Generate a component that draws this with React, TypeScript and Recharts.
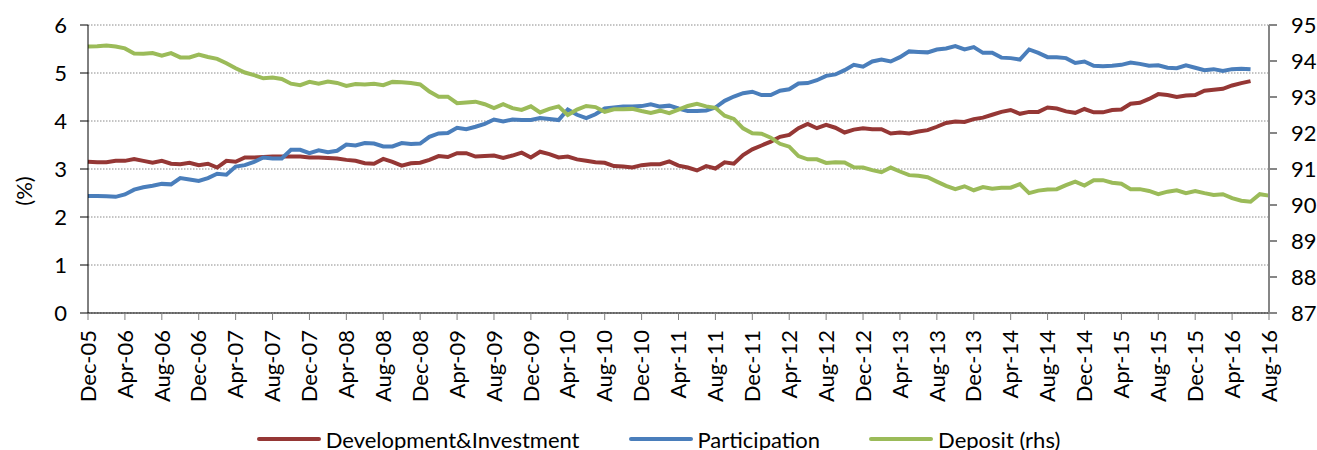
import React from 'react';
import { LineChart, Line, XAxis, YAxis, CartesianGrid, Legend } from 'recharts';

const FONT = 'Lato, "Open Sans", sans-serif';

// monthly categories, Dec-05 .. Aug-16
const months = [
  'Dec-05',
  'Jan-06', 'Feb-06', 'Mar-06', 'Apr-06', 'May-06', 'Jun-06', 'Jul-06', 'Aug-06', 'Sep-06', 'Oct-06', 'Nov-06', 'Dec-06',
  'Jan-07', 'Feb-07', 'Mar-07', 'Apr-07', 'May-07', 'Jun-07', 'Jul-07', 'Aug-07', 'Sep-07', 'Oct-07', 'Nov-07', 'Dec-07',
  'Jan-08', 'Feb-08', 'Mar-08', 'Apr-08', 'May-08', 'Jun-08', 'Jul-08', 'Aug-08', 'Sep-08', 'Oct-08', 'Nov-08', 'Dec-08',
  'Jan-09', 'Feb-09', 'Mar-09', 'Apr-09', 'May-09', 'Jun-09', 'Jul-09', 'Aug-09', 'Sep-09', 'Oct-09', 'Nov-09', 'Dec-09',
  'Jan-10', 'Feb-10', 'Mar-10', 'Apr-10', 'May-10', 'Jun-10', 'Jul-10', 'Aug-10', 'Sep-10', 'Oct-10', 'Nov-10', 'Dec-10',
  'Jan-11', 'Feb-11', 'Mar-11', 'Apr-11', 'May-11', 'Jun-11', 'Jul-11', 'Aug-11', 'Sep-11', 'Oct-11', 'Nov-11', 'Dec-11',
  'Jan-12', 'Feb-12', 'Mar-12', 'Apr-12', 'May-12', 'Jun-12', 'Jul-12', 'Aug-12', 'Sep-12', 'Oct-12', 'Nov-12', 'Dec-12',
  'Jan-13', 'Feb-13', 'Mar-13', 'Apr-13', 'May-13', 'Jun-13', 'Jul-13', 'Aug-13', 'Sep-13', 'Oct-13', 'Nov-13', 'Dec-13',
  'Jan-14', 'Feb-14', 'Mar-14', 'Apr-14', 'May-14', 'Jun-14', 'Jul-14', 'Aug-14', 'Sep-14', 'Oct-14', 'Nov-14', 'Dec-14',
  'Jan-15', 'Feb-15', 'Mar-15', 'Apr-15', 'May-15', 'Jun-15', 'Jul-15', 'Aug-15', 'Sep-15', 'Oct-15', 'Nov-15', 'Dec-15',
  'Jan-16', 'Feb-16', 'Mar-16', 'Apr-16', 'May-16', 'Jun-16', 'Jul-16', 'Aug-16',
];

// Development&Investment (%), Dec-05 .. Jun-16
const devInv = [
  3.15,
  3.14, 3.14, 3.17, 3.17, 3.21, 3.17, 3.13, 3.17, 3.11, 3.10, 3.13, 3.08,
  3.11, 3.03, 3.17, 3.15, 3.24, 3.24, 3.25, 3.26, 3.26, 3.26, 3.26, 3.24,
  3.24, 3.23, 3.22, 3.19, 3.17, 3.12, 3.11, 3.21, 3.15, 3.07, 3.12, 3.13,
  3.19, 3.27, 3.25, 3.33, 3.33, 3.26, 3.27, 3.28, 3.23, 3.28, 3.34, 3.24,
  3.36, 3.31, 3.24, 3.26, 3.20, 3.17, 3.14, 3.13, 3.06, 3.05, 3.03, 3.08,
  3.10, 3.10, 3.16, 3.07, 3.03, 2.97, 3.06, 3.01, 3.14, 3.11, 3.29, 3.41,
  3.49, 3.57, 3.67, 3.71, 3.85, 3.94, 3.85, 3.92, 3.86, 3.76, 3.82, 3.85,
  3.83, 3.83, 3.74, 3.76, 3.74, 3.78, 3.81, 3.88, 3.96, 3.99, 3.98, 4.04,
  4.07, 4.13, 4.19, 4.23, 4.15, 4.19, 4.19, 4.28, 4.26, 4.20, 4.17, 4.25,
  4.18, 4.18, 4.23, 4.24, 4.36, 4.38, 4.46, 4.56, 4.54, 4.50, 4.53, 4.54,
  4.63, 4.65, 4.67, 4.74, 4.79, 4.83,
];

// Participation (%), Dec-05 .. Jun-16
const participation = [
  2.44,
  2.44, 2.43, 2.42, 2.47, 2.57, 2.62, 2.65, 2.69, 2.68, 2.81, 2.78, 2.75,
  2.81, 2.90, 2.88, 3.05, 3.08, 3.15, 3.24, 3.22, 3.22, 3.40, 3.40, 3.33,
  3.39, 3.35, 3.38, 3.51, 3.49, 3.54, 3.53, 3.47, 3.47, 3.54, 3.52, 3.53,
  3.67, 3.74, 3.75, 3.86, 3.83, 3.88, 3.94, 4.03, 3.99, 4.03, 4.02, 4.02,
  4.06, 4.04, 4.02, 4.24, 4.13, 4.06, 4.14, 4.26, 4.28, 4.30, 4.30, 4.31,
  4.35, 4.30, 4.32, 4.26, 4.21, 4.21, 4.22, 4.28, 4.42, 4.51, 4.58, 4.61,
  4.54, 4.54, 4.63, 4.66, 4.78, 4.79, 4.85, 4.94, 4.97, 5.06, 5.17, 5.13,
  5.24, 5.28, 5.24, 5.33, 5.45, 5.44, 5.43, 5.49, 5.51, 5.56, 5.49, 5.54,
  5.42, 5.42, 5.32, 5.31, 5.28, 5.49, 5.42, 5.33, 5.33, 5.31, 5.21, 5.24,
  5.15, 5.14, 5.15, 5.17, 5.22, 5.19, 5.15, 5.16, 5.11, 5.10, 5.16, 5.11,
  5.06, 5.08, 5.04, 5.08, 5.09, 5.08,
];

// Deposit (rhs), Dec-05 .. Aug-16
const deposit = [
  94.40,
  94.41, 94.43, 94.40, 94.35, 94.21, 94.20, 94.22, 94.15, 94.22, 94.10, 94.10, 94.18,
  94.11, 94.06, 93.94, 93.80, 93.68, 93.61, 93.52, 93.54, 93.50, 93.37, 93.33, 93.42,
  93.37, 93.43, 93.39, 93.31, 93.36, 93.35, 93.37, 93.33, 93.42, 93.41, 93.39, 93.35,
  93.15, 93.01, 93.01, 92.83, 92.85, 92.87, 92.80, 92.69, 92.80, 92.69, 92.64, 92.74,
  92.57, 92.67, 92.74, 92.50, 92.65, 92.75, 92.72, 92.59, 92.66, 92.66, 92.67, 92.61,
  92.56, 92.62, 92.55, 92.65, 92.75, 92.81, 92.74, 92.70, 92.48, 92.39, 92.13, 91.99,
  91.98, 91.87, 91.70, 91.62, 91.36, 91.27, 91.27, 91.17, 91.19, 91.18, 91.05, 91.04,
  90.97, 90.91, 91.04, 90.93, 90.83, 90.81, 90.77, 90.65, 90.53, 90.44, 90.52, 90.41,
  90.50, 90.45, 90.48, 90.48, 90.58, 90.33, 90.40, 90.43, 90.44, 90.55, 90.65, 90.54,
  90.69, 90.69, 90.62, 90.59, 90.44, 90.44, 90.39, 90.30, 90.37, 90.41, 90.33, 90.39,
  90.33, 90.28, 90.30, 90.19, 90.12, 90.09, 90.30, 90.26,
];

const leftTicks = [0, 1, 2, 3, 4, 5, 6];
const rightTicks = [87, 88, 89, 90, 91, 92, 93, 94, 95];
const legendOrder = ['Development&Investment', 'Participation', 'Deposit (rhs)'];

const data = months.map((m, i) => ({
  month: m,
  dev: devInv[i] ?? null,
  part: participation[i] ?? null,
  dep: deposit[i] ?? null,
}));

const XTick = (props: any) => {
  const { x, y, payload } = props;
  return (
    <g transform={`translate(${x},${y})`}>
      <text
        transform="rotate(-90)"
        x={-8}
        y={0}
        dy="0.35em"
        textAnchor="end"
        fill="#000"
        fontSize={22}
        fontFamily={FONT}
      >
        {payload.value}
      </text>
    </g>
  );
};

const renderLegend = (props: any) => {
  const items = [...(props.payload || [])].sort(
    (a: any, b: any) => legendOrder.indexOf(a.value) - legendOrder.indexOf(b.value)
  );
  return (
    <div
      style={{
        display: 'flex',
        justifyContent: 'center',
        alignItems: 'center',
        gap: 49,
        height: 30,
        fontFamily: FONT,
        fontSize: 22,
        color: '#000',
      }}
    >
      {items.map((entry: any) => (
        <div key={entry.value} style={{ display: 'flex', alignItems: 'center' }}>
          <svg width={64} height={6}>
            <line x1={2} y1={3} x2={62} y2={3} stroke={entry.color} strokeWidth={4} strokeLinecap="round" />
          </svg>
          <span style={{ marginLeft: 5 }}>{entry.value}</span>
        </div>
      ))}
    </div>
  );
};

export default function App() {
  return (
    <div style={{ position: 'absolute', left: 0, top: 0 }}>
      <LineChart width={1317} height={450} data={data} margin={{ top: 25, right: 0, bottom: 12, left: 0 }}>
        <CartesianGrid
          yAxisId="left"
          vertical={false}
          stroke="#8a8a8a"
          strokeDasharray="1.5 1.5"
        />
        <XAxis
          dataKey="month"
          scale="point"
          interval={3}
          height={95}
          tick={<XTick />}
          tickSize={7}
          tickMargin={2}
          axisLine={{ stroke: '#000' }}
          tickLine={{ stroke: '#808080' }}
        />
        <YAxis
          yAxisId="left"
          width={88}
          domain={[0, 6]}
          ticks={leftTicks}
          interval={0}
          tickSize={8}
          tickMargin={13}
          axisLine={{ stroke: '#000' }}
          tickLine={{ stroke: '#000' }}
          tick={{ fill: '#000', fontSize: 22, fontFamily: FONT }}
          label={{
            content: () => (
              <text
                x={23}
                y={191}
                transform="rotate(-90 23 191)"
                textAnchor="middle"
                dominantBaseline="central"
                fontSize={22}
                fontFamily={FONT}
                fill="#000"
              >
                (%)
              </text>
            ),
          }}
        />
        <YAxis
          yAxisId="right"
          orientation="right"
          width={48}
          domain={[87, 95]}
          ticks={rightTicks}
          interval={0}
          tickSize={8}
          tickMargin={14}
          axisLine={{ stroke: '#868686', strokeWidth: 2 }}
          tickLine={{ stroke: '#868686', strokeWidth: 2 }}
          tick={{ fill: '#000', fontSize: 22, fontFamily: FONT, textAnchor: 'start' }}
        />
        <Legend
          verticalAlign="bottom"
          content={renderLegend}
          wrapperStyle={{ top: 424, bottom: 'auto', left: 0, width: 1317 }}
        />
        <Line
          yAxisId="left"
          type="linear"
          dataKey="dev"
          name="Development&Investment"
          stroke="#953735"
          strokeWidth={4}
          dot={false}
          isAnimationActive={false}
        />
        <Line
          yAxisId="left"
          type="linear"
          dataKey="part"
          name="Participation"
          stroke="#4a7ebb"
          strokeWidth={4}
          dot={false}
          isAnimationActive={false}
        />
        <Line
          yAxisId="right"
          type="linear"
          dataKey="dep"
          name="Deposit (rhs)"
          stroke="#9bbb59"
          strokeWidth={4}
          dot={false}
          isAnimationActive={false}
        />
      </LineChart>
    </div>
  );
}
